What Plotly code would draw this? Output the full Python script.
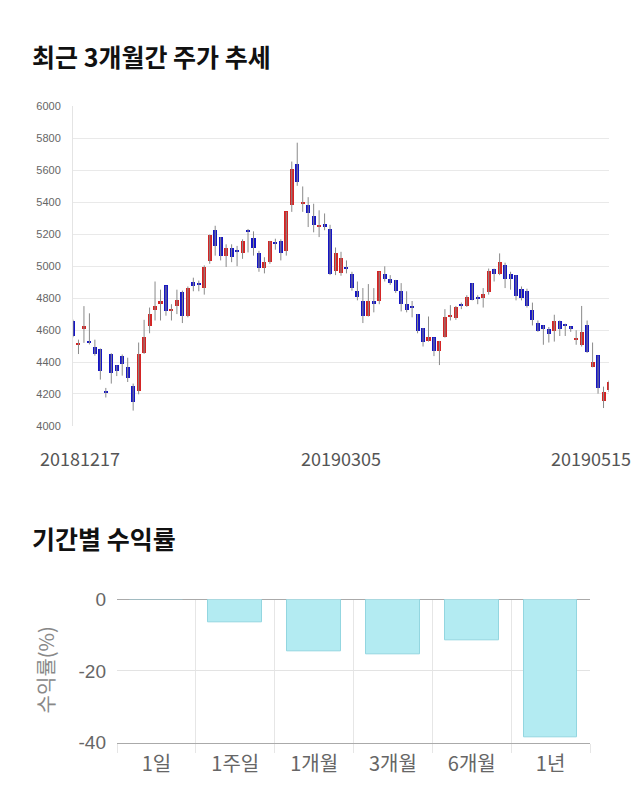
import plotly.graph_objects as go

# ---- candlestick data (daily OHLC) ----
opens = [4655, 4502, 4605, 4525, 4494, 4480, 4212, 4450, 4380, 4435,
         4368, 4248, 4218, 4452, 4620, 4721, 4762, 4877, 4717, 4751,
         4833, 4687, 4898, 4885, 4863, 5030, 5222, 5180, 5062, 5113,
         5100, 5082, 5222, 5172, 5082, 4985, 5022, 5147, 5152, 5093,
         5381, 5635, 5391, 5381, 5314, 5247, 5263, 5233, 4968, 4955,
         4995, 4948, 4843, 4782, 4685, 4782, 4778, 4950, 4918, 4908,
         4843, 4762, 4742, 4700, 4613, 4528, 4553, 4467, 4553, 4680,
         4670, 4762, 4751, 4890, 4797, 4796, 4833, 4979, 4948, 5005,
         4948, 4944, 4853, 4843, 4725, 4640, 4630, 4603, 4589, 4654,
         4635, 4623, 4534, 4502, 4630, 4367, 4441, 4151, 4224]
highs = [4665, 4540, 4750, 4705, 4540, 4485, 4238, 4455, 4380, 4447,
         4427, 4265, 4522, 4664, 4741, 4904, 4853, 4877, 4762, 4853,
         4847, 4873, 4928, 4910, 5005, 5198, 5253, 5182, 5137, 5137,
         5127, 5168, 5233, 5218, 5096, 5056, 5158, 5172, 5168, 5340,
         5655, 5773, 5499, 5432, 5391, 5350, 5330, 5259, 5117, 5090,
         5036, 4965, 4904, 4863, 4888, 4863, 4965, 4999, 4944, 4914,
         4894, 4843, 4782, 4700, 4613, 4685, 4553, 4532, 4731, 4756,
         4751, 4772, 4818, 4894, 4818, 4863, 4985, 4985, 5080, 5022,
         4965, 4944, 4873, 4859, 4772, 4660, 4630, 4619, 4696, 4660,
         4640, 4623, 4599, 4751, 4660, 4522, 4441, 4246, 4284]
lows = [4555, 4450, 4520, 4510, 4440, 4290, 4178, 4265, 4312, 4315,
        4275, 4096, 4198, 4451, 4580, 4660, 4660, 4690, 4660, 4700,
        4644, 4680, 4843, 4843, 4822, 5015, 5066, 5036, 4995, 5025,
        5000, 5046, 5086, 5066, 4965, 4955, 5015, 5103, 5036, 5066,
        5340, 5503, 5340, 5245, 5212, 5182, 5225, 4944, 4944, 4940,
        4955, 4847, 4786, 4644, 4685, 4711, 4762, 4904, 4883, 4833,
        4717, 4711, 4680, 4580, 4497, 4528, 4437, 4381, 4553, 4660,
        4664, 4731, 4745, 4786, 4762, 4741, 4822, 4904, 4944, 4863,
        4853, 4786, 4786, 4741, 4629, 4589, 4508, 4522, 4528, 4563,
        4563, 4589, 4508, 4497, 4457, 4367, 4202, 4112, 4212]
closes = [4560, 4518, 4622, 4520, 4447, 4340, 4205, 4330, 4340, 4388,
          4300, 4147, 4450, 4552, 4700, 4750, 4778, 4717, 4731, 4786,
          4687, 4863, 4873, 4880, 4995, 5192, 5121, 5062, 5113, 5055,
          5083, 5152, 5213, 5113, 4985, 5025, 5152, 5141, 5082, 5340,
          5604, 5523, 5401, 5330, 5253, 5258, 5245, 4950, 5082, 5046,
          4985, 4863, 4803, 4685, 4782, 4758, 4965, 4918, 4894, 4843,
          4762, 4725, 4740, 4593, 4522, 4553, 4467, 4532, 4680, 4690,
          4741, 4745, 4806, 4786, 4794, 4822, 4969, 4948, 5022, 4914,
          4914, 4812, 4798, 4751, 4660, 4593, 4603, 4573, 4654, 4603,
          4623, 4603, 4548, 4585, 4457, 4400, 4232, 4212, 4274]
date_labels = ["20181217", "20190305", "20190515"]
date_label_idx = [0, 49, 98]

# ---- period returns ----
periods = ["1일", "1주일", "1개월", "3개월", "6개월", "1년"]
returns = [0.0, -6.5, -14.4, -15.5, -11.4, -38.6]
ret_ticks = [0, -20, -40]

UP, DOWN = "#d42424", "#1515c4"
n = len(opens)
xs = list(range(n))

fig = go.Figure()

# wicks
wx, wy = [], []
for i in xs:
    wx += [i, i, None]
    wy += [lows[i], highs[i], None]
fig.add_trace(go.Scatter(x=wx, y=wy, mode="lines",
                         line=dict(color="#8a8a8a", width=1),
                         hoverinfo="skip", showlegend=False,
                         xaxis="x", yaxis="y"))
# bodies
base = [min(o, c) for o, c in zip(opens, closes)]
height = [max(abs(c - o), 9) for o, c in zip(opens, closes)]
cols = [UP if c > o else DOWN for o, c in zip(opens, closes)]
fig.add_trace(go.Bar(x=xs, y=height, base=base, width=0.74,
                     marker=dict(color=cols, line=dict(width=0)),
                     hoverinfo="skip", showlegend=False,
                     xaxis="x", yaxis="y"))

# returns bars
fig.add_trace(go.Bar(x=periods, y=returns, width=0.68,
                     marker=dict(color="#b3ebf2",
                                 line=dict(color="#93d6e0", width=1)),
                     hoverinfo="skip", showlegend=False,
                     xaxis="x2", yaxis="y2"))

W, H = 640, 810
def px(x):
    return x / W
def py(y):
    return 1 - y / H

fig.update_layout(
    width=W, height=H,
    margin=dict(l=0, r=0, t=0, b=0),
    paper_bgcolor="white", plot_bgcolor="white",
    bargap=0, barmode="overlay",
    xaxis=dict(domain=[px(73), px(609)], range=[0, n - 1],
               showgrid=False, zeroline=False, showticklabels=False,
               ticks="", fixedrange=True),
    yaxis=dict(domain=[py(427), py(99)], range=[4000, 6000], dtick=200,
               showgrid=True, gridcolor="#e9e9e9", gridwidth=1,
               zeroline=False, showline=True, linecolor="#e4e4e4",
               ticks="", ticklabelstandoff=9,
               tickfont=dict(family="Liberation Sans, Arial", size=11,
                             color="#666666"),
               anchor="x"),
    xaxis2=dict(domain=[px(117), px(590)], type="category",
                tickson="boundaries", showgrid=True, gridcolor="#e6e6e6",
                ticks="outside", ticklen=9, tickcolor="#e6e6e6",
                showline=True, linecolor="#aaaaaa",
                ticklabelstandoff=3,
                tickfont=dict(family="Noto Sans CJK KR", size=20,
                              color="#666666"),
                anchor="y2"),
    yaxis2=dict(domain=[py(752), py(605)], range=[-40, 0],
                tickvals=ret_ticks, ticktext=[str(t) for t in ret_ticks],
                showgrid=True, gridcolor="#e3e3e3",
                zeroline=True, zerolinecolor="#aaaaaa", zerolinewidth=1,
                ticks="", ticklabelstandoff=10,
                tickfont=dict(family="Liberation Sans, Arial", size=19,
                              color="#666666"),
                anchor="x2"),
)

ann = []
# date tick labels under the candlestick chart
shifts = [7, 0, -18]
for idx, lab, sh in zip(date_label_idx, date_labels, shifts):
    ann.append(dict(x=idx, y=4000, xref="x", yref="y", text=lab,
                    showarrow=False, xanchor="center", yanchor="top",
                    xshift=sh, yshift=-17,
                    font=dict(family="Noto Sans CJK KR", size=18,
                              color="#555555")))
ann.append(dict(x=px(30), y=py(47), xref="paper", yref="paper",
                text="<b>최근 3개월간 주가 추세</b>", showarrow=False,
                xanchor="left", yanchor="middle",
                font=dict(family="Noto Sans CJK KR", size=25,
                          color="#111111")))
ann.append(dict(x=px(30), y=py(542), xref="paper", yref="paper",
                text="<b>기간별 수익률</b>", showarrow=False,
                xanchor="left", yanchor="middle",
                font=dict(family="Noto Sans CJK KR", size=25,
                          color="#111111")))
ann.append(dict(x=px(45), y=py(678), xref="paper", yref="paper",
                text="수익률(%)", showarrow=False, textangle=-90,
                xanchor="center", yanchor="middle",
                font=dict(family="Noto Sans CJK KR", size=20,
                          color="#888888")))
fig.update_layout(annotations=ann)

fig.write_html("out.html", config={"displayModeBar": False})
